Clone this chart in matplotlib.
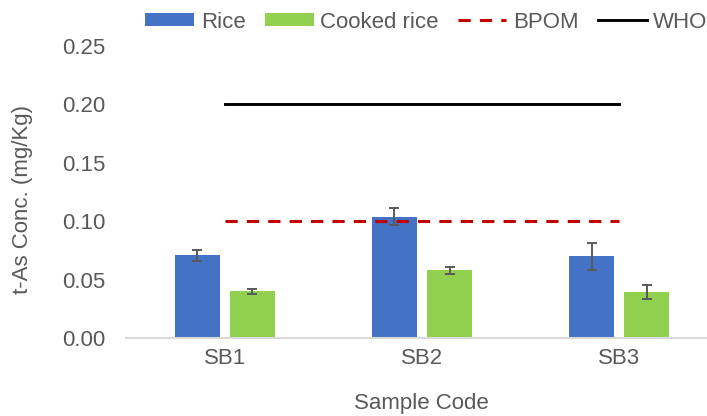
import numpy as np
import matplotlib.pyplot as plt

plt.rcParams['font.family'] = ['Liberation Sans', 'DejaVu Sans']

samples = ['SB1', 'SB2', 'SB3']
rice = [0.071, 0.104, 0.070]
rice_err = [0.0047, 0.0075, 0.0117]
cooked = [0.040, 0.058, 0.039]
cooked_err = [0.002, 0.003, 0.006]
bpom_limit = 0.10
who_limit = 0.20

grey = '#595959'
fs = 16
x = np.arange(len(samples))
w = 0.228

fig = plt.figure(figsize=(7.07, 4.16), dpi=100)
ax = fig.add_axes([126 / 707, 78 / 416, 592 / 707, 292 / 416])

ax.bar(x - 0.14, rice, w, color='#4472C4', label='Rice', zorder=2)
ax.bar(x + 0.14, cooked, w, color='#92D050', label='Cooked rice', zorder=2)
ax.errorbar(x - 0.14, rice, yerr=rice_err, fmt='none', ecolor=grey,
            elinewidth=1.4, capsize=3.6, capthick=1.4, zorder=3)
ax.errorbar(x + 0.14, cooked, yerr=cooked_err, fmt='none', ecolor=grey,
            elinewidth=1.4, capsize=3.6, capthick=1.4, zorder=3)

ax.plot(x, [bpom_limit] * len(x), color='#C00000', lw=2.2, dashes=(4, 3),
        label='BPOM', zorder=4)
ax.plot(x, [who_limit] * len(x), color='black', lw=2.1, label='WHO', zorder=4)

ax.set_xlim(-0.5, 2.5)
ax.set_ylim(0, 0.25)
yt = np.arange(0, 0.26, 0.05)
ax.set_yticks(yt)
ax.set_yticklabels([f'{v:.2f}' for v in yt])
ax.set_xticks(x)
ax.set_xticklabels(samples)
ax.tick_params(axis='both', length=0, labelsize=fs, labelcolor=grey)
ax.tick_params(axis='y', pad=15)
ax.tick_params(axis='x', pad=7)

for s in ['top', 'right', 'left']:
    ax.spines[s].set_visible(False)
ax.spines['bottom'].set_color('#D9D9D9')
ax.spines['bottom'].set_linewidth(1.5)

ax.set_ylabel('t-As Conc. (mg/Kg)', fontsize=fs, color=grey)
ax.yaxis.set_label_coords(-(126 - 33) / 592, (338 - 200) / 292)
ax.set_xlabel('Sample Code', fontsize=fs, color=grey)
ax.xaxis.set_label_coords((421 - 126) / 592, -(393 - 338) / 292)

h, l = ax.get_legend_handles_labels()
order = [2, 3, 0, 1]
fig.legend([h[i] for i in order], [l[i] for i in order], ncol=4,
           loc='center', bbox_to_anchor=(426.5 / 707, 1 - 22 / 416),
           frameon=False, fontsize=fs, labelcolor=grey,
           handlelength=2.2, handleheight=0.5, handletextpad=0.3,
           columnspacing=0.85, borderpad=0, borderaxespad=0)

fig.savefig('out.png', dpi=100)
